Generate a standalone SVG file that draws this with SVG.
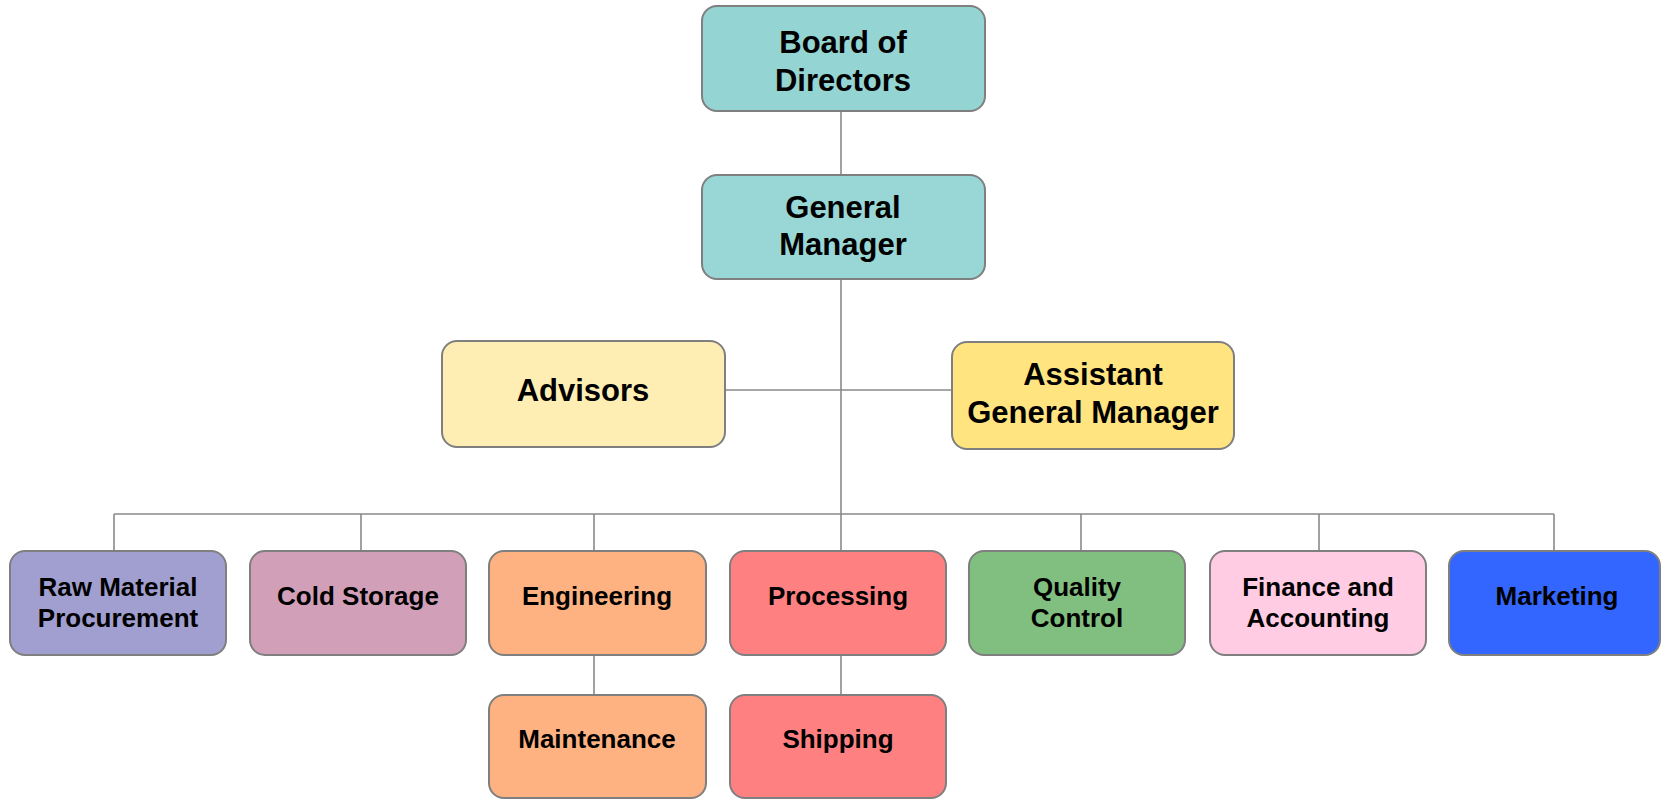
<svg xmlns="http://www.w3.org/2000/svg" width="1661" height="799" viewBox="0 0 1661 799">
  <style>
    .box { stroke: #7f7f7f; stroke-width: 2; }
    .lbl { font-family: "Liberation Sans", Arial, sans-serif; font-weight: bold; fill: #000; text-anchor: middle; }
    .big { font-size: 31px; }
    .small { font-size: 26px; }
    .wire { stroke: #8a8a8a; stroke-width: 1.6; fill: none; }
  </style>
  <rect width="1661" height="799" fill="#ffffff"/>

  <!-- connectors -->
  <g id="connectors">
    <line class="wire" x1="841" y1="111" x2="841" y2="175"/>
    <line class="wire" x1="841" y1="279" x2="841" y2="551"/>
    <line class="wire" x1="725" y1="390" x2="957" y2="390"/>
    <line class="wire" x1="114" y1="514" x2="1554" y2="514"/>
    <line class="wire" x1="114" y1="514" x2="114" y2="551"/>
    <line class="wire" x1="361" y1="514" x2="361" y2="551"/>
    <line class="wire" x1="594" y1="514" x2="594" y2="551"/>
    <line class="wire" x1="1081" y1="514" x2="1081" y2="551"/>
    <line class="wire" x1="1319" y1="514" x2="1319" y2="551"/>
    <line class="wire" x1="1554" y1="514" x2="1554" y2="551"/>
    <line class="wire" x1="594" y1="655" x2="594" y2="695"/>
    <line class="wire" x1="841" y1="655" x2="841" y2="695"/>
  </g>

  <g id="board">
    <rect class="box" x="702" y="6" width="283" height="105" rx="15" fill="#94d4d2"/>
    <text class="lbl big" x="843" y="53">Board of</text>
    <text class="lbl big" x="843" y="91">Directors</text>
  </g>

  <g id="general-manager">
    <rect class="box" x="702" y="175" width="283" height="104" rx="15" fill="#99d6d6"/>
    <text class="lbl big" x="843" y="218">General</text>
    <text class="lbl big" x="843" y="255">Manager</text>
  </g>

  <g id="advisors">
    <rect class="box" x="442" y="341" width="283" height="106" rx="15" fill="#ffeeb3"/>
    <text class="lbl big" x="583" y="401">Advisors</text>
  </g>

  <g id="assistant-gm">
    <rect class="box" x="952" y="342" width="282" height="107" rx="15" fill="#ffe480"/>
    <text class="lbl big" x="1093" y="385">Assistant</text>
    <text class="lbl big" x="1093" y="423">General Manager</text>
  </g>

  <g id="raw-material">
    <rect class="box" x="10" y="551" width="216" height="104" rx="15" fill="#a09fcf"/>
    <text class="lbl small" x="118" y="596">Raw Material</text>
    <text class="lbl small" x="118" y="627">Procurement</text>
  </g>

  <g id="cold-storage">
    <rect class="box" x="250" y="551" width="216" height="104" rx="15" fill="#d19fb8"/>
    <text class="lbl small" x="358" y="605">Cold Storage</text>
  </g>

  <g id="engineering">
    <rect class="box" x="489" y="551" width="217" height="104" rx="15" fill="#ffb281"/>
    <text class="lbl small" x="597" y="605">Engineering</text>
  </g>

  <g id="processing">
    <rect class="box" x="730" y="551" width="216" height="104" rx="15" fill="#ff8080"/>
    <text class="lbl small" x="838" y="605">Processing</text>
  </g>

  <g id="quality-control">
    <rect class="box" x="969" y="551" width="216" height="104" rx="15" fill="#80bf80"/>
    <text class="lbl small" x="1077" y="596">Quality</text>
    <text class="lbl small" x="1077" y="627">Control</text>
  </g>

  <g id="finance">
    <rect class="box" x="1210" y="551" width="216" height="104" rx="15" fill="#ffcce4"/>
    <text class="lbl small" x="1318" y="596">Finance and</text>
    <text class="lbl small" x="1318" y="627">Accounting</text>
  </g>

  <g id="marketing">
    <rect class="box" x="1449" y="551" width="211" height="104" rx="15" fill="#3366ff"/>
    <text class="lbl small" x="1557" y="605">Marketing</text>
  </g>

  <g id="maintenance">
    <rect class="box" x="489" y="695" width="217" height="103" rx="15" fill="#ffb281"/>
    <text class="lbl small" x="597" y="748">Maintenance</text>
  </g>

  <g id="shipping">
    <rect class="box" x="730" y="695" width="216" height="103" rx="15" fill="#ff8080"/>
    <text class="lbl small" x="838" y="748">Shipping</text>
  </g>
</svg>
